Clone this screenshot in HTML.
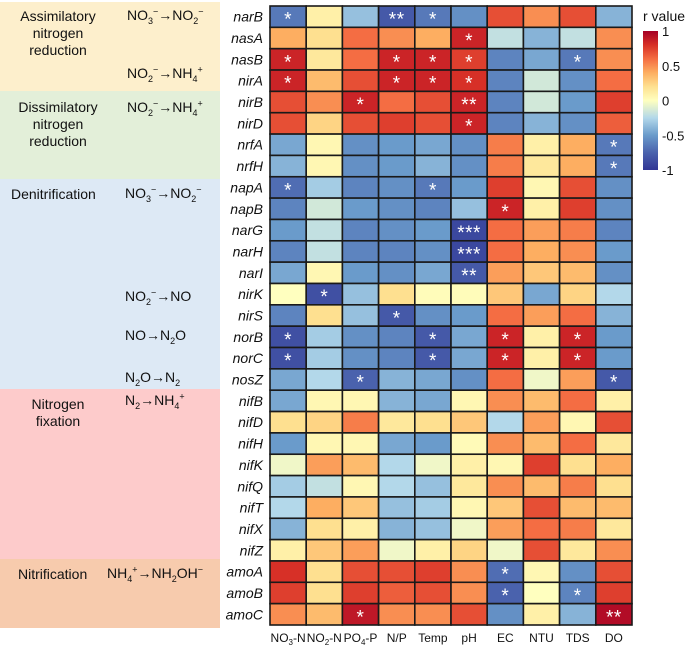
<!DOCTYPE html>
<html><head><meta charset="utf-8">
<style>
body{margin:0;width:685px;height:646px;background:#fff;overflow:hidden;font-family:"Liberation Sans",sans-serif;}
#wrap{position:relative;width:685px;height:646px;}
.band{position:absolute;left:0;width:220px;}
.t{position:absolute;font-size:14px;color:#111;white-space:nowrap;line-height:17px;}
.c{text-align:center;}
sub,sup{font-size:9px;line-height:0;}
</style></head><body>
<div id="wrap">
<div class="band" style="top:2px;height:89px;background:#fdefcc"></div>
<div class="band" style="top:91px;height:88px;background:#e3efd9"></div>
<div class="band" style="top:179px;height:210px;background:#dde9f5"></div>
<div class="band" style="top:389px;height:170px;background:#fdcbcb"></div>
<div class="band" style="top:559px;height:69px;background:#f7cbad"></div>

<div class="t c" style="left:8px;top:8px;width:100px">Assimilatory<br>nitrogen<br>reduction</div>
<div class="t c" style="left:8px;top:99px;width:100px">Dissimilatory<br>nitrogen<br>reduction</div>
<div class="t" style="left:11px;top:186px">Denitrification</div>
<div class="t c" style="left:8px;top:396px;width:100px">Nitrogen<br>fixation</div>
<div class="t" style="left:18px;top:566px">Nitrification</div>

<div class="t" style="left:127px;top:7px">NO<sub>3</sub><sup>−</sup>→NO<sub>2</sub><sup>−</sup></div>
<div class="t" style="left:127px;top:65px">NO<sub>2</sub><sup>−</sup>→NH<sub>4</sub><sup>+</sup></div>
<div class="t" style="left:127px;top:99px">NO<sub>2</sub><sup>−</sup>→NH<sub>4</sub><sup>+</sup></div>
<div class="t" style="left:125px;top:185px">NO<sub>3</sub><sup>−</sup>→NO<sub>2</sub><sup>−</sup></div>
<div class="t" style="left:125px;top:288px">NO<sub>2</sub><sup>−</sup>→NO</div>
<div class="t" style="left:125px;top:327px">NO→N<sub>2</sub>O</div>
<div class="t" style="left:125px;top:369px">N<sub>2</sub>O→N<sub>2</sub></div>
<div class="t" style="left:125px;top:392px">N<sub>2</sub>→NH<sub>4</sub><sup>+</sup></div>
<div class="t" style="left:107px;top:565px">NH<sub>4</sub><sup>+</sup>→NH<sub>2</sub>OH<sup>−</sup></div>

<svg id="chart" width="685" height="646" style="position:absolute;left:0;top:0">
<defs><linearGradient id="cb" x1="0" y1="1" x2="0" y2="0">
<stop offset="0" stop-color="#313695"/><stop offset="0.125" stop-color="#4a62ad"/><stop offset="0.25" stop-color="#6a9bcb"/><stop offset="0.375" stop-color="#b3d8ea"/><stop offset="0.5" stop-color="#ffffbf"/><stop offset="0.6" stop-color="#fee090"/><stop offset="0.7" stop-color="#fdae61"/><stop offset="0.8" stop-color="#f46d43"/><stop offset="0.9" stop-color="#d73027"/><stop offset="1" stop-color="#a50026"/>
</linearGradient></defs>
</svg>
</div>
<script>
const genes=["narB","nasA","nasB","nirA","nirB","nirD","nrfA","nrfH","napA","napB","narG","narH","narI","nirK","nirS","norB","norC","nosZ","nifB","nifD","nifH","nifK","nifQ","nifT","nifX","nifZ","amoA","amoB","amoC"];
const factors=["NO3-N","NO2-N","PO4-P","N/P","Temp","pH","EC","NTU","TDS","DO"];
const rValues=[
[-0.65,0.1,-0.35,-0.8,-0.65,-0.55,0.7,0.5,0.7,-0.4],
[0.4,0.2,0.6,0.5,0.4,0.85,-0.2,-0.4,-0.2,0.5],
[0.85,0.15,0.6,0.85,0.85,0.75,-0.6,-0.45,-0.65,0.5],
[0.85,0.35,0.7,0.85,0.85,0.8,-0.6,-0.15,-0.55,0.6],
[0.7,0.5,0.85,0.6,0.7,0.85,-0.6,-0.15,-0.5,0.75],
[0.7,0.25,0.7,0.75,0.7,0.85,-0.6,-0.4,-0.55,0.65],
[-0.45,0.05,-0.55,-0.5,-0.45,-0.55,0.55,0.1,0.4,-0.65],
[-0.4,0.05,-0.55,-0.5,-0.4,-0.55,0.55,0.15,0.4,-0.65],
[-0.7,-0.3,-0.6,-0.55,-0.65,-0.5,0.75,0.05,0.7,-0.55],
[-0.6,-0.15,-0.5,-0.55,-0.6,-0.35,0.85,0.1,0.75,-0.55],
[-0.5,-0.2,-0.6,-0.55,-0.5,-0.9,0.6,0.45,0.55,-0.6],
[-0.6,-0.2,-0.6,-0.6,-0.55,-0.9,0.6,0.4,0.5,-0.5],
[-0.45,0.05,-0.5,-0.55,-0.45,-0.8,0.45,0.3,0.35,-0.55],
[0.0,-0.85,-0.35,0.2,0.02,0.02,0.3,-0.45,0.25,-0.25],
[-0.6,0.2,-0.35,-0.8,-0.55,-0.5,0.6,0.45,0.6,-0.4],
[-0.85,-0.3,-0.55,-0.6,-0.8,-0.45,0.85,0.1,0.85,-0.5],
[-0.85,-0.3,-0.55,-0.6,-0.8,-0.45,0.85,0.1,0.85,-0.5],
[-0.45,-0.25,-0.75,-0.4,-0.45,-0.55,0.6,-0.05,0.45,-0.8],
[-0.45,0.05,0.05,-0.4,-0.45,0.05,0.5,0.35,0.6,0.1],
[0.2,0.25,0.55,0.15,0.2,0.3,-0.25,0.45,0.05,0.7],
[-0.5,0.05,0.05,-0.45,-0.5,0.03,0.5,0.35,0.6,0.15],
[-0.05,0.45,0.35,-0.25,-0.05,0.1,0.05,0.75,0.2,0.4],
[-0.3,-0.2,0.05,-0.25,-0.35,0.15,0.5,0.35,0.55,0.2],
[-0.25,0.4,0.3,-0.35,-0.3,0.05,0.3,0.7,0.35,0.35],
[-0.4,0.2,0.1,-0.4,-0.35,-0.05,0.45,0.6,0.55,0.15],
[0.1,0.3,0.45,-0.05,0.1,0.25,-0.05,0.7,0.15,0.5],
[0.8,0.2,0.7,0.7,0.75,0.5,-0.7,0.05,-0.55,0.7],
[0.75,0.2,0.75,0.65,0.7,0.5,-0.75,0.0,-0.6,0.75],
[0.5,0.35,0.9,0.5,0.5,0.7,-0.55,0.1,-0.4,0.95]];
const stars=[
["*","","","**","*","","","","",""],
["","","","","","*","","","",""],
["*","","","*","*","*","","","*",""],
["*","","","*","*","*","","","",""],
["","","*","","","**","","","",""],
["","","","","","*","","","",""],
["","","","","","","","","","*"],
["","","","","","","","","","*"],
["*","","","","*","","","","",""],
["","","","","","","*","","",""],
["","","","","","***","","","",""],
["","","","","","***","","","",""],
["","","","","","**","","","",""],
["","*","","","","","","","",""],
["","","","*","","","","","",""],
["*","","","","*","","*","","*",""],
["*","","","","*","","*","","*",""],
["","","*","","","","","","","*"],
["","","","","","","","","",""],
["","","","","","","","","",""],
["","","","","","","","","",""],
["","","","","","","","","",""],
["","","","","","","","","",""],
["","","","","","","","","",""],
["","","","","","","","","",""],
["","","","","","","","","",""],
["","","","","","","*","","",""],
["","","","","","","*","","*",""],
["","","*","","","","","","","**"]];
const cbTicks=[1,0.5,0,-0.5,-1];
const cbTickLabels=["1","0.5","0","-0.5","-1"];

const NS="http://www.w3.org/2000/svg";
const svg=document.getElementById('chart');
const X0=270,X1=632,Y0=6,Y1=625;
const cw=(X1-X0)/factors.length, ch=(Y1-Y0)/genes.length;
const xPos=i=>X0+i*cw, yPos=j=>Y0+j*ch;
const stops=[[-1,[49,54,149]],[-0.75,[74,98,173]],[-0.5,[106,155,203]],[-0.25,[179,216,234]],[0,[255,255,191]],[0.2,[254,224,144]],[0.4,[253,174,97]],[0.6,[244,109,67]],[0.8,[215,48,39]],[1,[165,0,38]]];
function color(v){v=Math.max(-1,Math.min(1,v));for(let k=0;k<stops.length-1;k++){const a=stops[k],b=stops[k+1];if(v<=b[0]){const t=(v-a[0])/(b[0]-a[0]);const c=a[1].map((x,i)=>Math.round(x+(b[1][i]-x)*t));return`rgb(${c})`;}}return"rgb(165,0,38)";}
function mk(tag,attrs,txt){const e=document.createElementNS(NS,tag);for(const k in attrs)e.setAttribute(k,attrs[k]);if(txt!==undefined)e.textContent=txt;svg.appendChild(e);return e;}
for(let j=0;j<genes.length;j++){
  const lab=mk('text',{x:263,y:yPos(j)+ch/2+5,'text-anchor':'end','font-size':14,'font-style':'italic','font-family':'Liberation Sans, sans-serif',fill:'#111'},genes[j]);
  
  
  for(let i=0;i<factors.length;i++){
    const r=mk('rect',{x:xPos(i),y:yPos(j),width:cw,height:ch,fill:color(rValues[j][i]),stroke:'#1a1a1a','stroke-width':1.6});
    
    
    if(stars[j][i]){
      const s=mk('text',{x:xPos(i)+cw/2,y:yPos(j)+ch/2+9,'text-anchor':'middle','font-size':19,'font-family':'Liberation Sans, sans-serif',fill:'#fff','letter-spacing':'0.5'},stars[j][i]);
      
      
    }
  }
}
const colHtml=["NO<tspan font-size='8' dy='3'>3</tspan><tspan dy='-3'>-N</tspan>","NO<tspan font-size='8' dy='3'>2</tspan><tspan dy='-3'>-N</tspan>","PO<tspan font-size='8' dy='3'>4</tspan><tspan dy='-3'>-P</tspan>"];
for(let i=0;i<factors.length;i++){
  const t=mk('text',{x:xPos(i)+cw/2,y:642,'text-anchor':'middle','font-size':12,'font-family':'Liberation Sans, sans-serif',fill:'#111'});
  if(i<3)t.innerHTML=colHtml[i];else t.textContent=factors[i];
  
  
}
const CB0=31,CB1=170;
const cbY=v=>CB1-(v+1)/2*(CB1-CB0);
const cb=mk('rect',{x:643,y:CB0,width:15,height:CB1-CB0,fill:'url(#cb)'});


const ct=mk('text',{x:643,y:21,'font-size':14,'font-family':'Liberation Sans, sans-serif',fill:'#111'},'r value');


cbTicks.forEach((v,k)=>{
  const tl=mk('text',{x:662,y:cbY(v)+5,'font-size':13,'font-family':'Liberation Sans, sans-serif',fill:'#111'},cbTickLabels[k]);
  
  
});
</script>
</body></html>
